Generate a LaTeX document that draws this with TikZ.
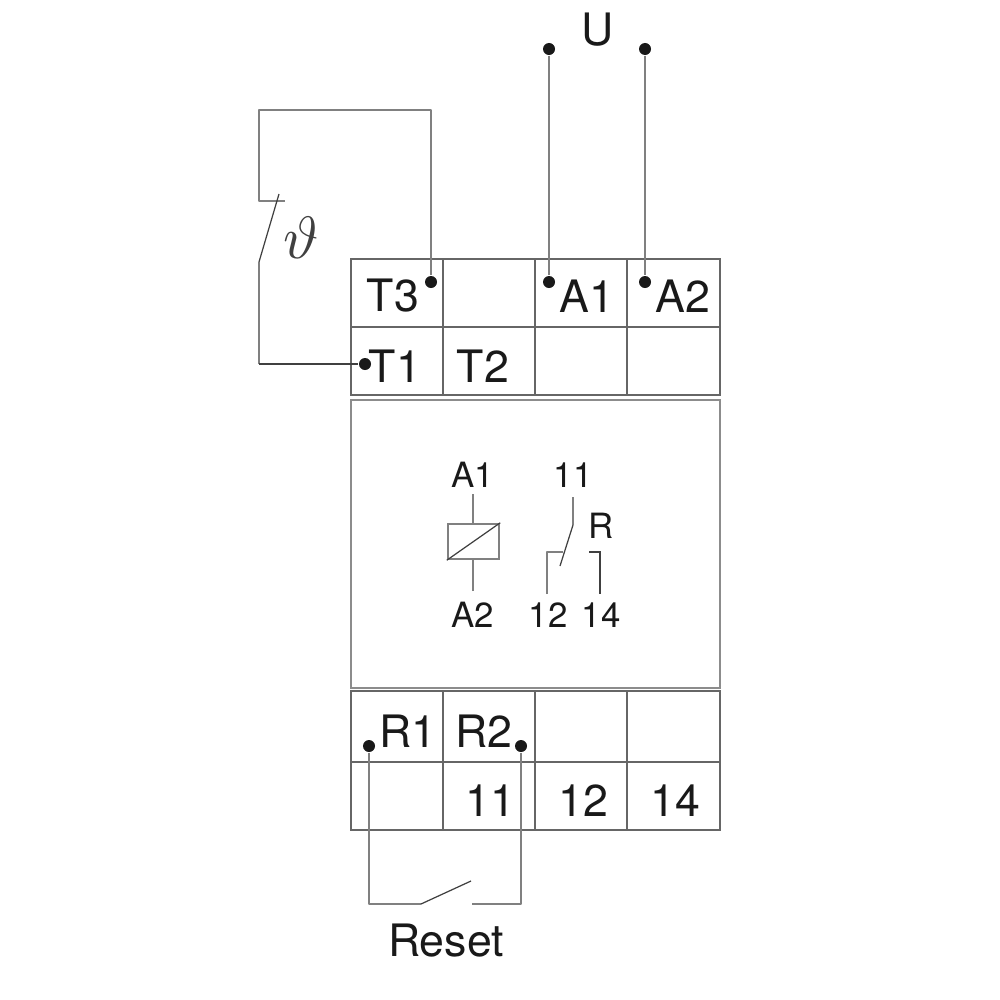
\documentclass[tikz,border=0pt]{standalone}
\usepackage{fontspec}
\setmainfont{TeX Gyre Heros}

\begin{document}
\begin{tikzpicture}[x=0.01cm, y=-0.01cm]
	\tikzset{borne/.style={font=\fontsize{12.7}{14}\selectfont, text=black!90, inner sep=0},
		interne/.style={font=\fontsize{9.9}{12}\selectfont, text=black!90, inner sep=0},
		point/.style={circle, fill=black!90, inner sep=0, minimum size=0.12cm},
		case/.style={draw=black!60, line width=0.6pt},
		fil/.style={draw=black!50, line width=0.5pt, line join=round},
		filfin/.style={draw=black!75, line width=0.35pt}};
	\useasboundingbox (0,0) rectangle (1000,1000);

	% boitier
	\foreach \x/\xb in {351/443, 443/535, 535/627, 627/720}{
		\foreach \y/\yb in {259/327, 327/395, 691/762, 762/830}{
			\draw[case] (\x,\y) rectangle (\xb,\yb);
		}
	}
	\draw[draw=black!45, line width=0.6pt] (351,400) rectangle (720,688);

	\node[borne] (t3) at (393,296) {T3};
	\node[borne] (a1) at (587,296) {A1};
	\node[borne] (a2) at (683,296) {A2};
	\node[borne] (t1) at (395,366) {T1};
	\node[borne] (t2) at (483,366) {T2};
	\node[borne] (r1) at (408,731) {R1};
	\node[borne] (r2) at (484,731) {R2};
	\node[borne] (n11) at (490,801) {11};
	\node[borne] (n12) at (583,801) {12};
	\node[borne] (n14) at (675,801) {14};
	\node[borne] (u) at (598,30) {U};
	\node[borne] (reset) at (446,941) {Reset};
	\node[inner sep=0, text=black!75, scale=1.7] (theta) at (301,238) {$\vartheta$};

	\node[point] (pu1) at (549,49) {};
	\node[point] (pu2) at (645,49) {};
	\node[point] (pa1) at (549,282) {};
	\node[point] (pa2) at (645,282) {};
	\node[point] (pt3) at (431,282) {};
	\node[point] (pt1) at (365,364) {};
	\node[point] (pr1) at (369,746) {};
	\node[point] (pr2) at (521,746) {};

	\coordinate (h1) at (431,110);
	\coordinate (h2) at (259,110);
	\coordinate (h3) at (259,201);
	\coordinate (h4) at (285,201);
	\coordinate (s1) at (259,262);
	\coordinate (s2) at (279,194);
	\coordinate (b1) at (259,364);
	\coordinate (c1) at (369,904);
	\coordinate (c2) at (421,904);
	\coordinate (c3) at (471,881);
	\coordinate (c4) at (472,904);
	\coordinate (c5) at (521,904);

	\draw[fil] (pu1) -- (pa1);
	\draw[fil, line width=0.7pt] (pu2) -- (pa2);
	\draw[fil] (pt3) -- (h1) -- (h2) -- (h3) -- (h4);
	\draw[filfin] (s1) -- (s2);
	\draw[fil] (s1) -- (b1);
	\draw[filfin] (b1) -- (pt1);
	\draw[fil] (pr1) -- (c1) -- (c2);
	\draw[filfin] (c2) -- (c3);
	\draw[fil] (c4) -- (c5) -- (pr2);

	% schema interne
	\node[interne] (ia1) at (473,475) {A1};
	\node[interne] (ia2) at (473,615) {A2};
	\node[interne] (i11) at (573,475) {11};
	\node[interne] (ir) at (601,526) {R};
	\node[interne] (i12) at (548,615) {12};
	\node[interne] (i14) at (601,615) {14};

	\node[draw=black!50, line width=0.7pt, minimum width=0.51cm, minimum height=0.35cm, inner sep=0] (bobine) at (473.5,541.5) {};
	\draw[filfin] (bobine.south west) -- (bobine.north east);
	\coordinate (bh) at (473,494);
	\coordinate (bb) at (473,591);
	\draw[fil] (bh) -- (bobine.north -| bh);
	\draw[fil] (bb) -- (bobine.south -| bb);

	\coordinate (k1) at (573,497);
	\coordinate (k2) at (573,525);
	\coordinate (k3) at (560,566);
	\coordinate (l1) at (547,594);
	\coordinate (l2) at (547,552);
	\coordinate (l3) at (563,552);
	\coordinate (m1) at (589,552);
	\coordinate (m2) at (600,552);
	\coordinate (m3) at (600,594);
	\draw[fil] (k1) -- (k2);
	\draw[filfin] (k2) -- (k3);
	\draw[fil] (l1) -- (l2) -- (l3);
	\draw[filfin] (m1) -- (m2) -- (m3);
\end{tikzpicture}
\end{document}
